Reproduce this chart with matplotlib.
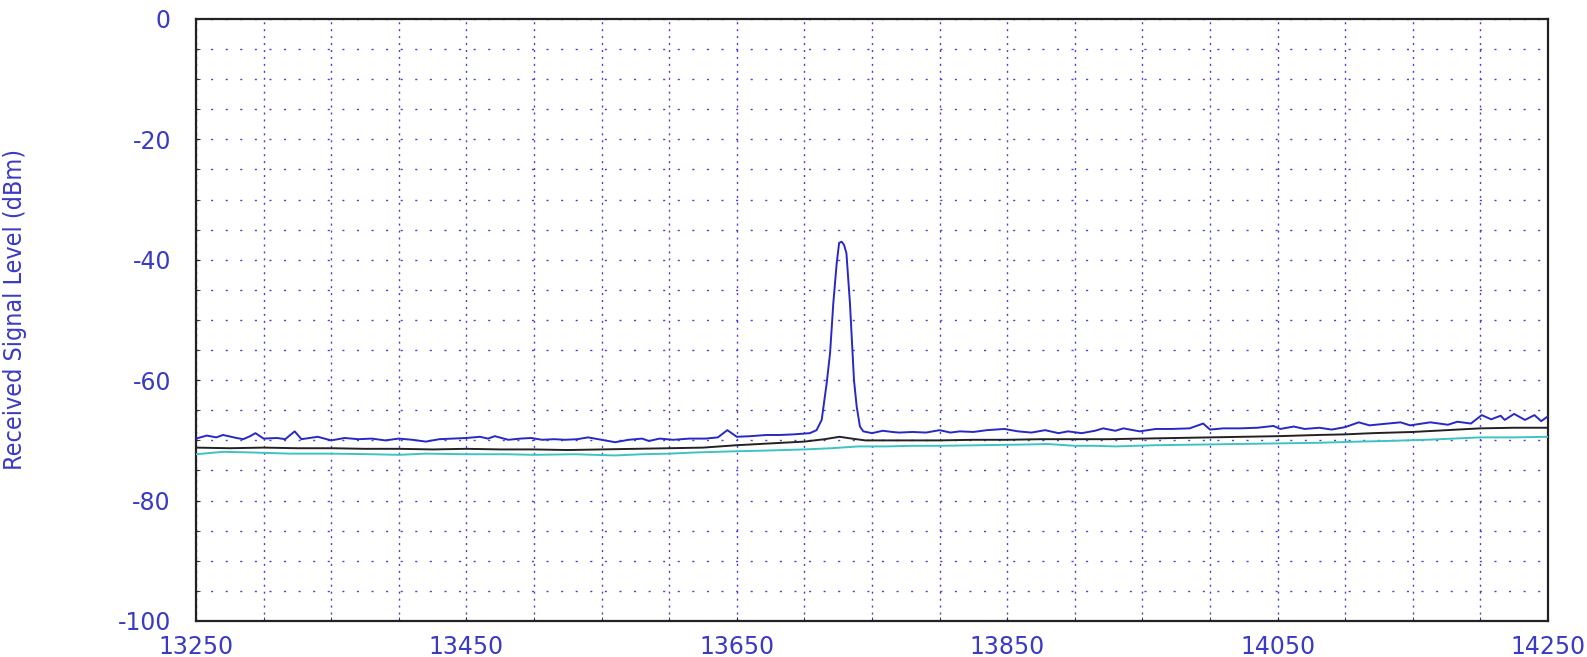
import numpy as np
import matplotlib.pyplot as plt
from matplotlib.ticker import MultipleLocator

plt.rcParams['axes.unicode_minus'] = False

# frequency (MHz) / level (dBm) for the three traces
blue_freq = [13250, 13258, 13265, 13270, 13280, 13285, 13290, 13294, 13300, 13310,
             13316, 13323, 13328, 13340, 13350, 13360, 13370, 13380, 13390, 13400,
             13410, 13420, 13430, 13440, 13450, 13460, 13466, 13471, 13481, 13490,
             13498, 13506, 13515, 13523, 13532, 13540, 13550, 13560, 13570, 13580,
             13585, 13593, 13603, 13615, 13627, 13636, 13643, 13650, 13660, 13672,
             13682, 13692, 13704, 13709, 13712.8, 13716.5, 13719, 13721.4, 13723.9, 13725.7,
             13727.5, 13729.3, 13731.1, 13733.7, 13736.7, 13738.7, 13741.1, 13743.6, 13750, 13758,
             13765, 13770, 13780, 13790, 13800, 13808, 13815, 13825, 13835, 13848,
             13858, 13868, 13878, 13888, 13895, 13905, 13915, 13921, 13930, 13936,
             13948, 13960, 13972, 13985, 13995, 14000, 14010, 14022, 14035, 14047,
             14052, 14062, 14070, 14081, 14090, 14100, 14110, 14118, 14127, 14141,
             14148, 14163, 14176, 14183, 14193, 14201, 14208, 14215, 14218, 14225,
             14233, 14240, 14245, 14250]
blue_level = [-69.7, -69.2, -69.5, -69.1, -69.6, -69.8, -69.3, -68.8, -69.7, -69.6,
              -69.8, -68.5, -69.8, -69.4, -70.0, -69.6, -69.8, -69.7, -70.0, -69.7,
              -69.9, -70.2, -69.8, -69.7, -69.6, -69.4, -69.7, -69.3, -69.9, -69.7,
              -69.6, -69.9, -69.8, -69.9, -69.8, -69.5, -69.9, -70.3, -69.9, -69.7,
              -70.1, -69.7, -69.9, -69.7, -69.7, -69.5, -68.3, -69.4, -69.3, -69.1,
              -69.1, -69.0, -68.8, -68.3, -66.6, -60.5, -55.5, -47.2, -40.6, -37.2,
              -37.0, -37.5, -38.9, -47.2, -60.0, -64.4, -67.7, -68.5, -68.8, -68.4,
              -68.6, -68.7, -68.6, -68.7, -68.3, -68.7, -68.5, -68.6, -68.3, -68.1,
              -68.5, -68.7, -68.3, -68.8, -68.5, -68.8, -68.4, -68.0, -68.4, -68.0,
              -68.5, -68.1, -68.1, -68.0, -67.2, -68.2, -68.0, -68.0, -67.9, -67.6,
              -68.1, -67.7, -68.1, -67.9, -68.2, -67.8, -67.0, -67.5, -67.3, -67.0,
              -67.5, -67.0, -67.4, -66.9, -67.2, -65.8, -66.5, -65.9, -66.6, -65.6,
              -66.6, -65.8, -66.8, -66.0]

black_freq = [13250, 13275, 13300, 13325, 13350, 13375, 13400, 13425, 13450, 13475,
              13500, 13525, 13550, 13575, 13600, 13625, 13650, 13675, 13700, 13715,
              13726, 13735, 13745, 13775, 13800, 13825, 13850, 13875, 13900, 13925,
              13950, 13975, 14000, 14025, 14050, 14080, 14100, 14120, 14150, 14175,
              14200, 14225, 14250]
black_level = [-71.2, -71.3, -71.2, -71.3, -71.3, -71.4, -71.4, -71.5, -71.4, -71.5,
               -71.5, -71.6, -71.5, -71.4, -71.3, -71.2, -70.8, -70.5, -70.2, -69.8,
               -69.4, -69.7, -70.0, -70.0, -70.0, -69.9, -69.9, -69.8, -69.8, -69.8,
               -69.7, -69.6, -69.5, -69.4, -69.3, -69.1, -69.0, -68.8, -68.6, -68.3,
               -68.0, -67.9, -67.9]

cyan_freq = [13250, 13270, 13290, 13320, 13350, 13380, 13400, 13420, 13450, 13480,
             13500, 13530, 13560, 13580, 13600, 13620, 13650, 13670, 13700, 13720,
             13740, 13760, 13780, 13800, 13830, 13860, 13880, 13900, 13915, 13930,
             13960, 13990, 14020, 14050, 14080, 14110, 14130, 14160, 14200, 14225,
             14250]
cyan_level = [-72.3, -71.9, -72.0, -72.2, -72.2, -72.3, -72.4, -72.2, -72.3, -72.3,
              -72.4, -72.3, -72.5, -72.3, -72.2, -72.0, -71.8, -71.7, -71.5, -71.3,
              -71.0, -71.0, -70.9, -70.9, -70.8, -70.7, -70.6, -70.9, -70.9, -71.0,
              -70.8, -70.7, -70.6, -70.5, -70.4, -70.2, -70.1, -69.9, -69.5, -69.5,
              -69.4]

x_ticks = [13250, 13450, 13650, 13850, 14050, 14250]
y_ticks = [-100, -80, -60, -40, -20, 0]

txt = '#3a3ac4'
grid_c = '#4646d2'

fig = plt.figure(figsize=(15.87, 6.57), dpi=100)
ax = fig.add_axes([0.1235, 0.0548, 0.8519, 0.9163])

ax.plot(cyan_freq, cyan_level, color='#3cc4c4', lw=1.4, zorder=3)
ax.plot(black_freq, black_level, color='#222222', lw=1.4, zorder=4)
ax.plot(blue_freq, blue_level, color='#2828c4', lw=1.4, zorder=5)

ax.set_xlim(13250, 14250)
ax.set_ylim(-100, 0)
ax.set_xticks(x_ticks)
ax.set_yticks(y_ticks)
ax.xaxis.set_minor_locator(MultipleLocator(50))
ax.yaxis.set_minor_locator(MultipleLocator(5))

ax.xaxis.grid(True, which='both', color=grid_c, lw=1.0, linestyle=(0, (1.5, 3.5)))
ax.yaxis.grid(True, which='both', color=grid_c, lw=1.0, linestyle=(0, (1.5, 9)))
ax.set_axisbelow(True)

for s in ax.spines.values():
    s.set_linewidth(1.6)
    s.set_color('#222222')

ax.tick_params(axis='both', which='both', direction='in', length=3, color='#222222',
               labelcolor=txt, labelsize=17)
ax.tick_params(axis='y', pad=18)
ax.tick_params(axis='x', pad=10)

ax.set_ylabel('Received Signal Level (dBm)', color=txt, fontsize=18,
              family='DejaVu Sans', fontstretch='condensed', fontweight='light')
ax.yaxis.set_label_coords(-0.125, 0.518)

fig.savefig('out.png', dpi=100)
